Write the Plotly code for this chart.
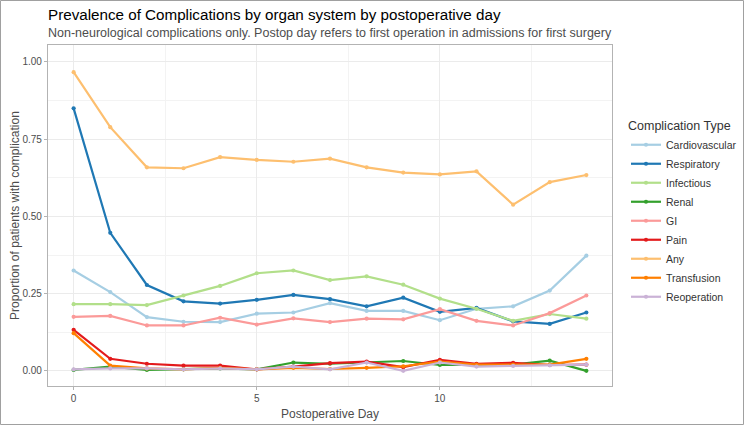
import plotly.graph_objects as go

days = list(range(15))
cardiovascular = [0.325, 0.255, 0.174, 0.159, 0.158, 0.185, 0.189, 0.219, 0.194, 0.194, 0.164, 0.201, 0.209, 0.260, 0.373]
respiratory = [0.850, 0.447, 0.278, 0.225, 0.218, 0.230, 0.246, 0.232, 0.209, 0.237, 0.191, 0.204, 0.160, 0.152, 0.189]
infectious = [0.216, 0.216, 0.213, 0.244, 0.275, 0.316, 0.325, 0.294, 0.306, 0.279, 0.234, 0.201, 0.162, 0.184, 0.169]
renal = [0.003, 0.014, 0.003, 0.005, 0.008, 0.005, 0.027, 0.023, 0.028, 0.032, 0.019, 0.020, 0.020, 0.033, 0.000]
gi = [0.175, 0.178, 0.147, 0.147, 0.172, 0.150, 0.170, 0.158, 0.169, 0.167, 0.200, 0.162, 0.147, 0.187, 0.244]
pain = [0.133, 0.039, 0.023, 0.017, 0.017, 0.005, 0.014, 0.025, 0.030, 0.012, 0.036, 0.023, 0.026, 0.019, 0.020]
any_comp = [0.967, 0.789, 0.659, 0.656, 0.692, 0.683, 0.677, 0.687, 0.659, 0.642, 0.636, 0.646, 0.538, 0.611, 0.634]
transfusion = [0.122, 0.017, 0.008, 0.005, 0.010, 0.005, 0.010, 0.006, 0.010, 0.015, 0.030, 0.020, 0.020, 0.020, 0.039]
reoperation = [0.005, 0.008, 0.008, 0.005, 0.008, 0.005, 0.014, 0.005, 0.027, 0.000, 0.027, 0.014, 0.016, 0.018, 0.020]

series_names = ["Cardiovascular", "Respiratory", "Infectious", "Renal", "GI", "Pain", "Any", "Transfusion", "Reoperation"]
series_values = [cardiovascular, respiratory, infectious, renal, gi, pain, any_comp, transfusion, reoperation]
colors = ["#A6CEE3", "#1F78B4", "#B2DF8A", "#33A02C", "#FB9A99", "#E31A1C", "#FDBF6F", "#FF7F00", "#CAB2D6"]

x_ticks = [0, 5, 10]
y_ticks = [0.0, 0.25, 0.5, 0.75, 1.0]
y_tick_labels = ["0.00", "0.25", "0.50", "0.75", "1.00"]

FONT = "Liberation Sans, Arial, sans-serif"

fig = go.Figure()
for name, vals, col in zip(series_names, series_values, colors):
    fig.add_trace(go.Scatter(
        x=days, y=vals, name=name, mode="lines+markers",
        line=dict(color=col, width=2.2),
        marker=dict(color=col, size=4.2),
    ))

L, R, T, B = 48, 612, 45, 386
W, H = 744, 425
pw, ph = R - L, B - T

fig.update_layout(
    width=W, height=H,
    margin=dict(l=L, r=W - R, t=T, b=H - B, autoexpand=False),
    paper_bgcolor="white", plot_bgcolor="white",
    font=dict(family=FONT, color="#4d4d4d"),
    showlegend=True,
    legend=dict(
        title=dict(text="Complication Type", font=dict(size=12.5, color="#333333")),
        x=(626 - L) / pw, xanchor="left", y=(B - 114) / ph, yanchor="top",
        font=dict(size=10.5, color="#333333"),
        tracegroupgap=0, itemwidth=30,
        bgcolor="rgba(0,0,0,0)",
    ),
    xaxis=dict(
        range=[-0.7, 14.7], tickvals=x_ticks, ticktext=[str(v) for v in x_ticks],
        automargin=False,
        showgrid=True, gridcolor="#ebebeb", gridwidth=1,
        minor=dict(dtick=2.5, tick0=0, showgrid=True, gridcolor="#f3f3f3", gridwidth=0.8),
        zeroline=False, showline=True, linecolor="#b3b3b3", linewidth=1.2, mirror=True,
        ticks="outside", ticklen=3, tickcolor="#b3b3b3",
        tickfont=dict(size=10, color="#4d4d4d"),
        title=dict(text="Postoperative Day", font=dict(size=12, color="#4d4d4d"), standoff=6),
    ),
    yaxis=dict(
        range=[-0.049, 1.055], tickvals=y_ticks, ticktext=y_tick_labels,
        automargin=False,
        showgrid=True, gridcolor="#ebebeb", gridwidth=1,
        minor=dict(dtick=0.125, tick0=0, showgrid=True, gridcolor="#f3f3f3", gridwidth=0.8),
        zeroline=False, showline=True, linecolor="#b3b3b3", linewidth=1.2, mirror=True,
        ticks="outside", ticklen=3, tickcolor="#b3b3b3",
        tickfont=dict(size=10, color="#4d4d4d"),
        title=dict(text="Proportion of patients with complication", font=dict(size=12, color="#4d4d4d"), standoff=0),
    ),
    annotations=[
        dict(text="Prevalence of Complications by organ system by postoperative day",
             xref="paper", yref="paper", x=0, y=(B - 14) / ph, xanchor="left", yanchor="middle",
             xshift=-2, showarrow=False, font=dict(size=15.2, color="#000000", family=FONT)),
        dict(text="Non-neurological complications only. Postop day refers to first operation in admissions for first surgery",
             xref="paper", yref="paper", x=0, y=(B - 33) / ph, xanchor="left", yanchor="middle",
             xshift=-2, showarrow=False, font=dict(size=12.5, color="#4d4d4d", family=FONT)),
    ],
    shapes=[
        dict(type="rect", xref="paper", yref="paper",
             x0=(0.5 - L) / pw, x1=(W - 0.5 - L) / pw,
             y0=(B - (H - 0.5)) / ph, y1=(B - 0.5) / ph,
             line=dict(color="#a0a0a0", width=1), fillcolor="rgba(0,0,0,0)", layer="below"),
    ],
)

fig.write_html("out.html", config={"displayModeBar": False},
               post_script="document.body.style.margin='0px';document.body.style.overflow='hidden';")
